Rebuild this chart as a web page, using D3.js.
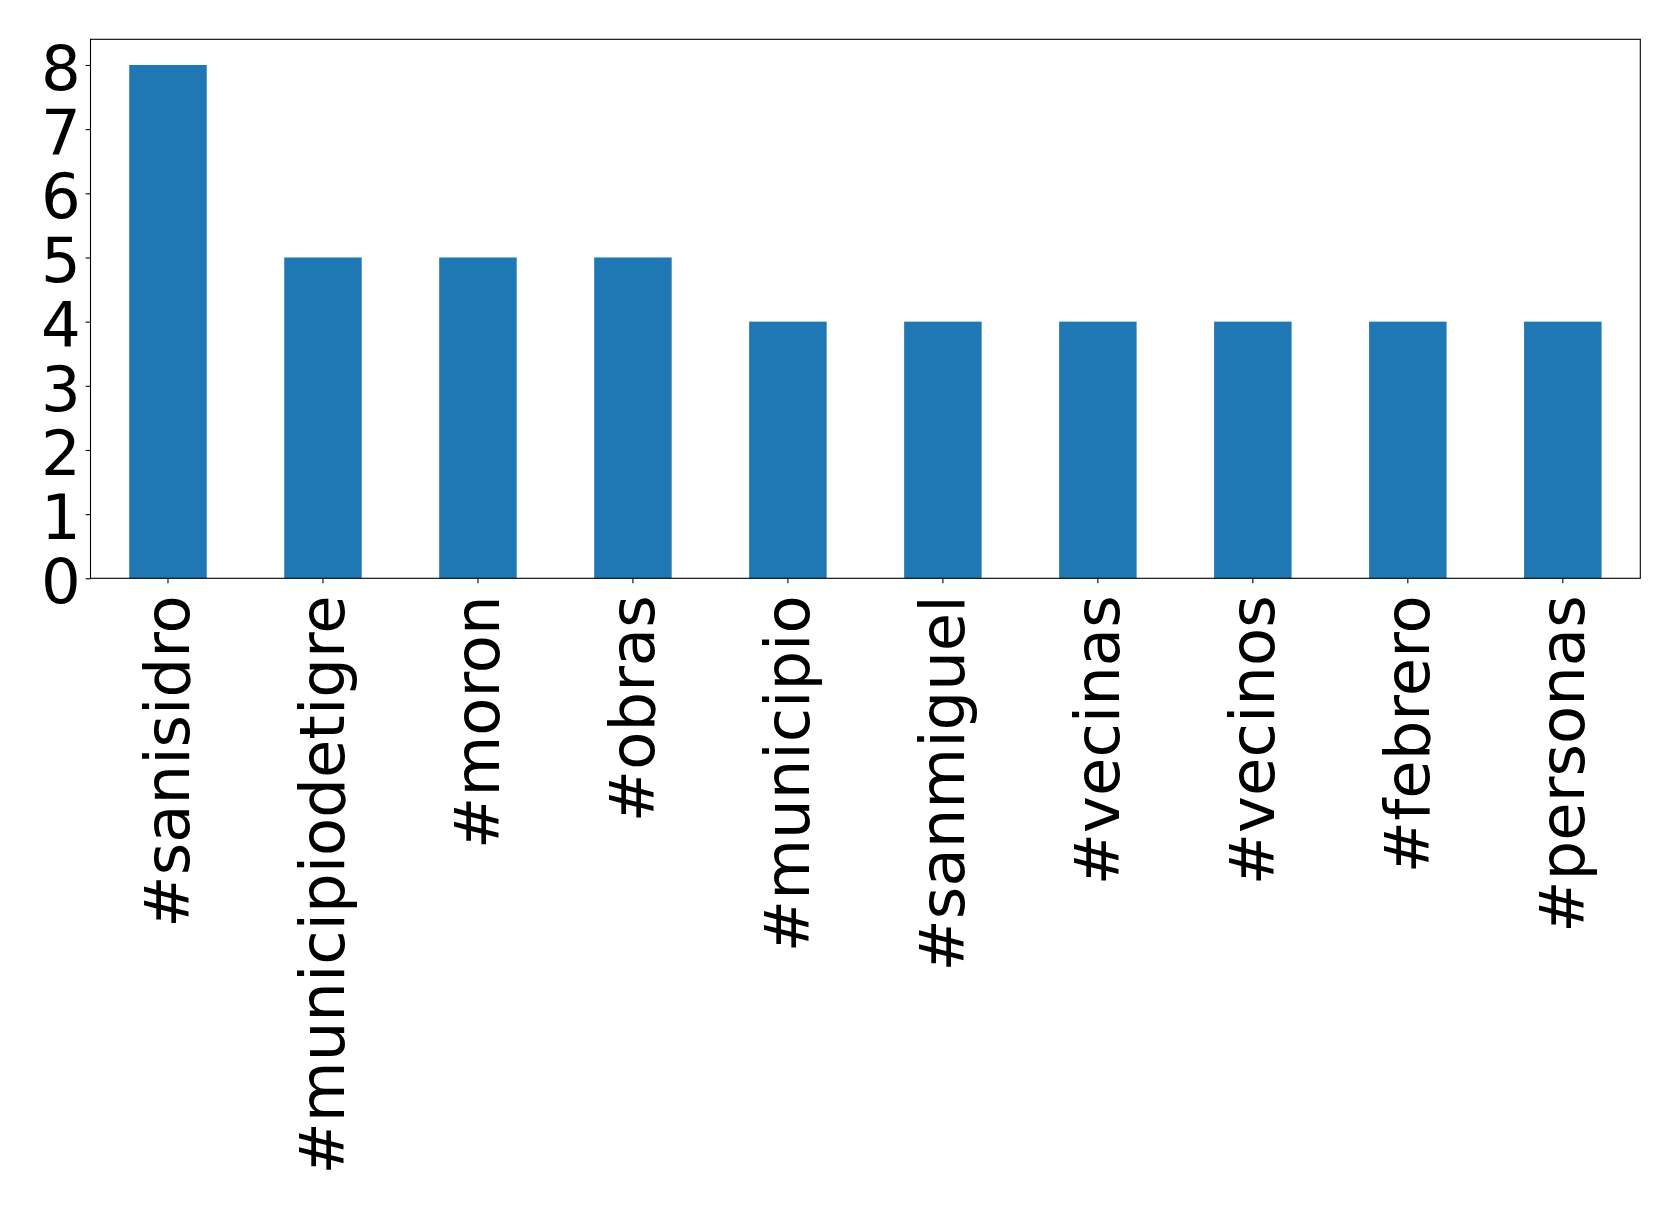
<!DOCTYPE html>
<html>
<head>
<meta charset="utf-8">
<script src="https://cdn.jsdelivr.net/npm/d3@7"></script>
<style>
html,body{margin:0;padding:0;background:#fff;}
svg{display:block;}
text{font-family:"DejaVu Sans",sans-serif;fill:#000;}
</style>
</head>
<body>
<script>
const categories = ["#sanisidro","#municipiodetigre","#moron","#obras","#municipio","#sanmiguel","#vecinas","#vecinos","#febrero","#personas"];
const values = [8,5,5,5,4,4,4,4,4,4];
const yTicks = [0,1,2,3,4,5,6,7,8];

const W = 1679, H = 1207;
const mLeft = 90.5, mRight = 1640.3, mTop = 39.3, mBottom = 578.3;
const fontSize = 62.5;

const svg = d3.select("body").append("svg").attr("width", W).attr("height", H);
svg.append("rect").attr("width", W).attr("height", H).attr("fill", "#fff");

const x = d3.scaleBand().domain(categories).range([mLeft, mRight]).paddingInner(0.5).paddingOuter(0.25);
const y = d3.scaleLinear().domain([0, 8.4]).range([mBottom, mTop]);

svg.append("g").selectAll("rect").data(categories).join("rect")
  .attr("x", d => x(d))
  .attr("width", x.bandwidth())
  .attr("y", (d, i) => y(values[i]))
  .attr("height", (d, i) => y(0) - y(values[i]))
  .attr("fill", "#1f77b4");

// frame
svg.append("rect").attr("x", mLeft).attr("y", mTop).attr("width", mRight - mLeft).attr("height", mBottom - mTop)
  .attr("fill", "none").attr("stroke", "#000").attr("stroke-width", 1.1);

// y axis
const yAxis = d3.axisLeft(y).tickValues(yTicks).tickSize(4.86).tickPadding(4.86).tickFormat(d3.format("d"));
const gy = svg.append("g").attr("transform", `translate(${mLeft},0)`).call(yAxis);
gy.select(".domain").remove();
gy.selectAll(".tick line").attr("stroke", "#000").attr("stroke-width", 1.1);
gy.selectAll(".tick text").attr("font-size", fontSize).attr("font-family", "DejaVu Sans")
  .attr("fill", "#000").attr("dy", null).attr("dominant-baseline", "alphabetic").attr("y", 24.5);

// x axis
const xAxis = d3.axisBottom(x).tickSize(4.86).tickPadding(4.86);
const gx = svg.append("g").attr("transform", `translate(0,${mBottom})`).call(xAxis);
gx.select(".domain").remove();
gx.selectAll(".tick line").attr("stroke", "#000").attr("stroke-width", 1.1);
gx.selectAll(".tick text")
  .attr("font-size", fontSize).attr("font-family", "DejaVu Sans").attr("fill", "#000")
  .attr("y", null).attr("dy", null)
  .attr("text-anchor", "end")
  .attr("dominant-baseline", "central")
  .attr("transform", "translate(0,17) rotate(-90)");
</script>
</body>
</html>
